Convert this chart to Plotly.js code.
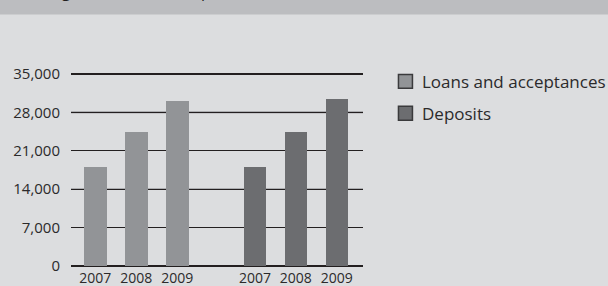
<!DOCTYPE html>
<html>
<head>
<meta charset="utf-8">
<script src="https://cdn.plot.ly/plotly-3.0.1.min.js"></script>
<style>html,body{margin:0;padding:0;background:#dcdddf;}#chart{width:608px;height:286px;}</style>
</head>
<body>
<div id="chart"></div>
<script>
// ---- data ----
var years = ["2007", "2008", "2009"];
var seriesNames = ["Loans and acceptances", "Deposits"];
var loans = [18000, 24400, 30100];
var deposits = [18000, 24400, 30500];
var yTicks = [0, 7000, 14000, 21000, 28000, 35000];
var yTickLabels = ["0", "7,000", "14,000", "21,000", "28,000", "35,000"];
var titleText = "Lending and customer deposits (EUR, million)";

// ---- styling / layout ----
var colors = ["#929497", "#6c6d70"];
var groupOffset = 3.9;
var FONT = "Open Sans, sans-serif";
var TXT = "#2b2a2b";

var xLoans = years.map(function (y, i) { return i; });
var xDep = years.map(function (y, i) { return i + groupOffset; });

var traces = [
  { type: "bar", x: xLoans, y: loans, name: seriesNames[0], marker: { color: colors[0] }, width: 0.56, showlegend: false, hoverinfo: "y" },
  { type: "bar", x: xDep, y: deposits, name: seriesNames[1], marker: { color: colors[1] }, width: 0.54, showlegend: false, hoverinfo: "y" }
];

var plotTop = 72.1, plotH = 196.35, plotL = 70.7, plotW = 292.3;
function px2py(py) { return (plotTop + plotH - py) / plotH; }
function px2px(px) { return (px - plotL) / plotW; }

var shapes = [
  // title banner
  { type: "rect", xref: "paper", yref: "paper", x0: -1, x1: 2, y0: px2py(14.5), y1: 2, fillcolor: "#bcbdc0", line: { width: 0 }, layer: "below" }
];
// alternating gridline colours: gray on even ticks
yTicks.forEach(function (v, i) {
  if (i % 2 === 0) {
    shapes.push({ type: "line", xref: "paper", yref: "y", x0: 0, x1: 1, y0: v, y1: v, line: { color: "#7d7e81", width: 1.6 }, layer: "below" });
  }
});

// custom legend (15px squares)
var annotations = [];
seriesNames.forEach(function (n, i) {
  var cy = 81.5 + i * 32;
  shapes.push({ type: "rect", xref: "paper", yref: "paper",
    x0: px2px(398.5), x1: px2px(412.5), y0: px2py(cy - 7), y1: px2py(cy + 7),
    fillcolor: colors[i], line: { color: "#3a3a3c", width: 1.5 } });
  annotations.push({ xref: "paper", yref: "paper", x: px2px(420), y: px2py(cy), xanchor: "left", yanchor: "middle",
    text: n, showarrow: false, font: { family: FONT, size: 17, color: TXT } });
});
annotations.push({ xref: "paper", yref: "paper", x: px2px(9), y: px2py(-9.5), xanchor: "left", yanchor: "middle",
  text: titleText, showarrow: false, font: { family: FONT, size: 16, color: "#231f20" } });

var layout = {
  width: 608, height: 286,
  paper_bgcolor: "#dcdddf", plot_bgcolor: "rgba(0,0,0,0)",
  margin: { l: plotL, r: 608 - plotL - plotW, t: plotTop, b: 286 - plotTop - plotH, pad: 0 },
  showlegend: false,
  xaxis: {
    type: "linear", range: [-0.593, 6.54],
    tickvals: xLoans.concat(xDep), ticktext: years.concat(years),
    showgrid: false, zeroline: false, showline: false, ticks: "",
    tickfont: { family: FONT, size: 14, color: TXT }, fixedrange: true
  },
  yaxis: {
    range: [-350, 35350], tickvals: yTicks, ticktext: yTickLabels,
    showgrid: true, gridcolor: "#231f20", gridwidth: 1.2, zeroline: false, showline: false,
    ticks: "", ticklabelstandoff: 10,
    tickfont: { family: FONT, size: 15, color: TXT }, fixedrange: true
  },
  bargap: 0,
  shapes: shapes,
  annotations: annotations,
  font: { family: FONT }
};

Plotly.newPlot("chart", traces, layout, { displayModeBar: false, staticPlot: true });
</script>
</body>
</html>
